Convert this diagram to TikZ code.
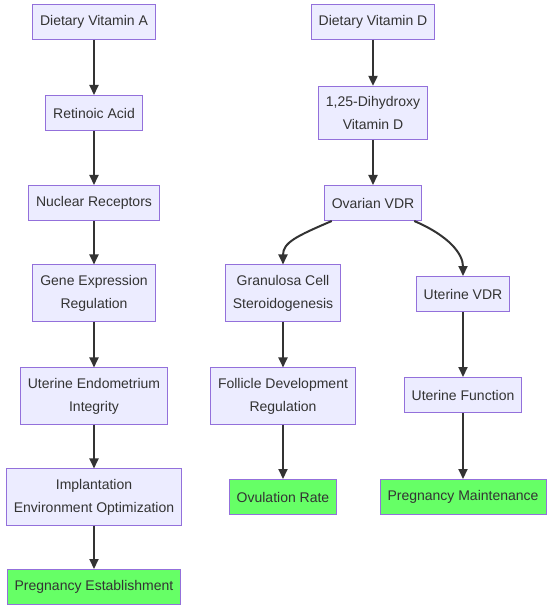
\documentclass[tikz,border=0pt]{standalone}
\usepackage{fontspec}
\setmainfont{Liberation Sans}
\usepackage{tikz}
\usetikzlibrary{arrows.meta}
\definecolor{vfill}{HTML}{ECECFF}
\definecolor{vstroke}{HTML}{9370DB}
\definecolor{vgreen}{HTML}{66FF66}
\definecolor{vtext}{HTML}{333333}

\begin{document}
\begin{tikzpicture}[x=1pt,y=-1pt,box/.style={draw=vstroke,fill=vfill,line width=1pt,text=vtext,align=center,inner xsep=7.5pt,inner ysep=10pt,minimum height=35pt,font=\fontsize{14}{23}\selectfont},goal/.style={box,fill=vgreen},flow/.style={-{Triangle[length=10pt,width=9pt]},line width=2pt,draw=vtext}]
\useasboundingbox (0,0) rectangle (550,612);
% vitamin A path
\node[box] (va) at (94,22) {Dietary Vitamin A};
\node[box] (ra) at (94,113) {Retinoic Acid};
\node[box] (nr) at (94,203) {Nuclear Receptors};
\node[box] (ger) at (94,293) {Gene Expression\\Regulation};
\node[box] (uei) at (94,396) {Uterine Endometrium\\Integrity};
\node[box] (ieo) at (94,497) {Implantation\\Environment Optimization};
\node[goal] (pe) at (94,587) {Pregnancy Establishment};
% vitamin D path
\node[box] (vd) at (373,22) {Dietary Vitamin D};
\node[box] (dvd) at (373,113) {1,25-Dihydroxy\\Vitamin D};
\node[box] (ovdr) at (373,203) {Ovarian VDR};
\node[box] (gcs) at (283,293) {Granulosa Cell\\Steroidogenesis};
\node[box] (fdr) at (283,396) {Follicle Development\\Regulation};
\node[goal] (or) at (283,497) {Ovulation Rate};
\node[box] (uvdr) at (463,294) {Uterine VDR};
\node[box] (uf) at (463,395) {Uterine Function};
\node[goal] (pm) at (463,497) {Pregnancy Maintenance};
\foreach \a/\b in %
{va/ra,ra/nr,nr/ger,ger/uei,uei/ieo,ieo/pe,vd/dvd,dvd/ovdr,gcs/fdr,fdr/or,uvdr/uf,uf/pm} {
   \draw[flow] (\a) -- (\b);
}
\draw[flow] ([xshift=8pt]ovdr.south west) .. controls +(-35,15) and +(0,-22) .. (gcs.north);
\draw[flow] ([xshift=-8pt]ovdr.south east) .. controls +(35,15) and +(0,-22) .. (uvdr.north);
\end{tikzpicture}
\end{document}
